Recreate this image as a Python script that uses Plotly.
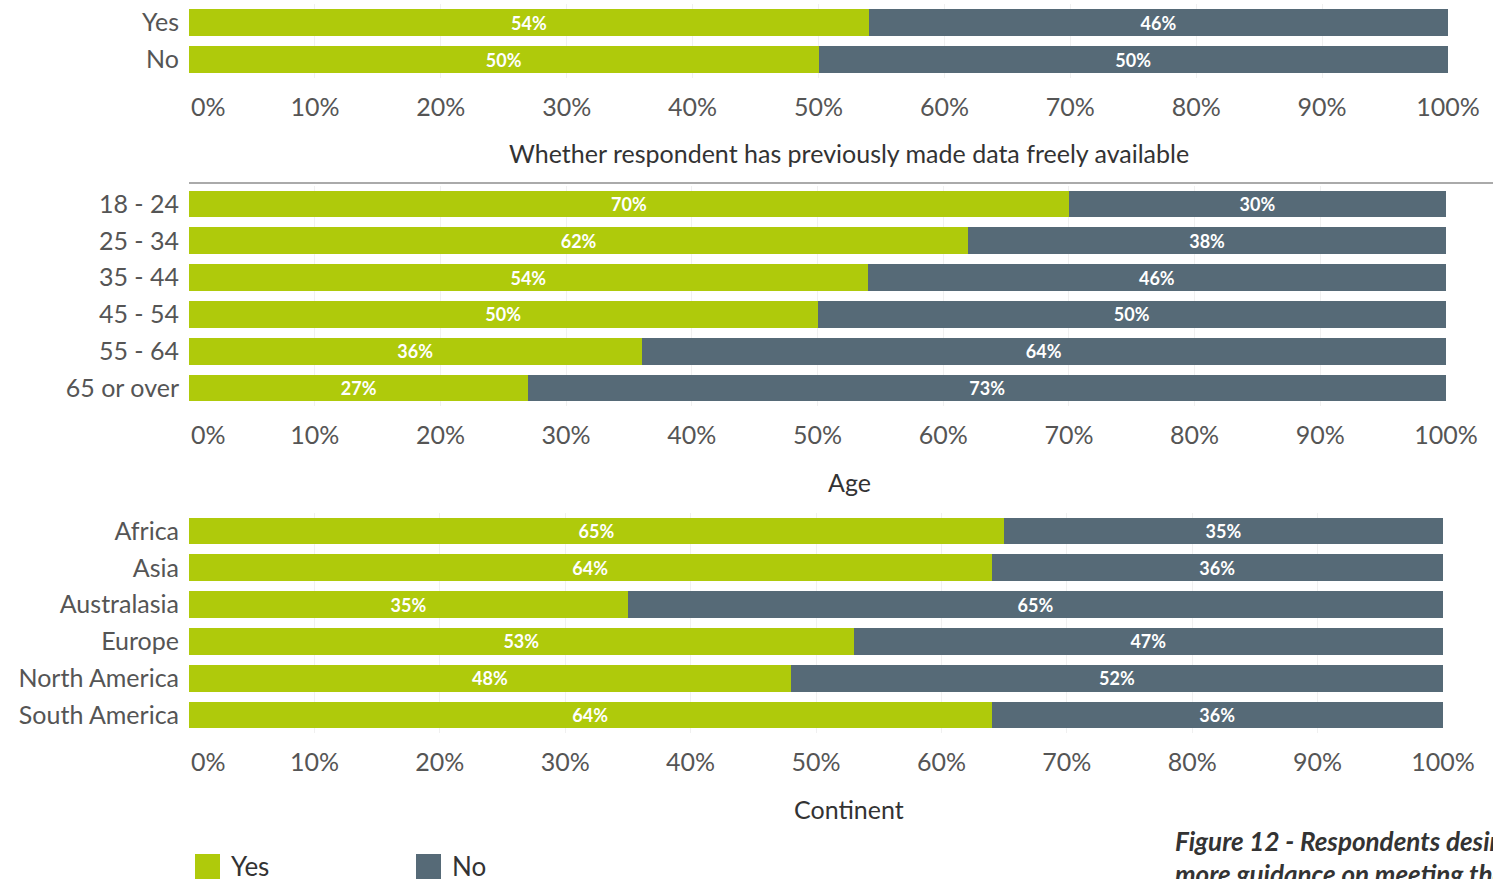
import plotly.graph_objects as go

W, H = 1493, 879

# ---- data ----
prev_cats = ["Yes", "No"]
prev_yes = [54, 50]
prev_no = [46, 50]

age_cats = ["18 - 24", "25 - 34", "35 - 44", "45 - 54", "55 - 64", "65 or over"]
age_yes = [70, 62, 54, 50, 36, 27]
age_no = [30, 38, 46, 50, 64, 73]

cont_cats = ["Africa", "Asia", "Australasia", "Europe", "North America", "South America"]
cont_yes = [65, 64, 35, 53, 48, 64]
cont_no = [35, 36, 65, 47, 52, 36]

tick_vals = list(range(0, 101, 10))
tick_text = ["\u00a0" * 6 + "0%"] + [f"{v}%" for v in tick_vals[1:]]

panel_titles = ["Whether respondent has previously made data freely available", "Age", "Continent"]

GREEN = "#AFCA0B"
SLATE = "#566A77"
FONT = "Lato"
TICKC = "#555555"

# pixel layout: (top, bottom, right) of each plot area
panels = [
    (prev_cats, prev_yes, prev_no, 4, 78, 1448, 153),
    (age_cats, age_yes, age_no, 185.6, 406.4, 1446, 482),
    (cont_cats, cont_yes, cont_no, 512.6, 733.4, 1443, 809),
]

fig = go.Figure()
annotations = []
for i, (cats, yes, no, top, bot, right, title_y) in enumerate(panels):
    n = i + 1
    xa = "x" if n == 1 else f"x{n}"
    ya = "y" if n == 1 else f"y{n}"
    for name, vals, col in (("Yes", yes, GREEN), ("No", no, SLATE)):
        fig.add_trace(go.Bar(
            y=cats, x=vals, name=name, orientation="h",
            marker=dict(color=col, line=dict(width=0)),
            text=[f"{v}%" for v in vals], textposition="inside",
            insidetextanchor="middle", textangle=0, constraintext="none",
            textfont=dict(color="white", size=18, family=FONT, weight="bold"),
            xaxis=xa, yaxis=ya, showlegend=False, hoverinfo="skip",
        ))
    xkey = "xaxis" if n == 1 else f"xaxis{n}"
    ykey = "yaxis" if n == 1 else f"yaxis{n}"
    fig.update_layout(**{
        xkey: dict(domain=[189 / W, right / W], range=[0, 100], anchor=ya,
                   tickvals=tick_vals, ticktext=tick_text, automargin=False,
                   showgrid=True, gridcolor="#F0F0F0", gridwidth=1,
                   zeroline=False, showline=False,
                   ticks="outside", ticklen=7, tickcolor="rgba(0,0,0,0)",
                   tickfont=dict(size=25, color=TICKC, family=FONT), fixedrange=True),
        ykey: dict(domain=[1 - bot / H, 1 - top / H], anchor=xa, automargin=False,
                   categoryorder="array", categoryarray=cats, autorange="reversed",
                   showgrid=False, zeroline=False, showline=False,
                   ticks="outside", ticklen=4, tickcolor="rgba(0,0,0,0)",
                   tickfont=dict(size=25, color=TICKC, family=FONT), fixedrange=True),
    })
    annotations.append(dict(
        text=panel_titles[i], x=849 / W, y=1 - title_y / H, xref="paper", yref="paper",
        xanchor="center", yanchor="middle", showarrow=False,
        font=dict(size=25, color="#333333", family=FONT)))

# legend (drawn manually)
shapes = [
    dict(type="line", xref="paper", yref="paper", x0=189 / W, x1=1, y0=1 - 183 / H, y1=1 - 183 / H,
         line=dict(color="#AAAAAA", width=2)),
    dict(type="rect", xref="paper", yref="paper", x0=195 / W, x1=220 / W, y0=1 - 879 / H, y1=1 - 854 / H,
         fillcolor=GREEN, line=dict(width=0)),
    dict(type="rect", xref="paper", yref="paper", x0=416 / W, x1=441 / W, y0=1 - 879 / H, y1=1 - 854 / H,
         fillcolor=SLATE, line=dict(width=0)),
]
for label, xpx in (("Yes", 229), ("No", 450)):
    annotations.append(dict(text=label, x=xpx / W, y=1 - 866 / H, xref="paper", yref="paper",
                            xanchor="left", yanchor="middle", showarrow=False,
                            font=dict(size=26, color="#333333", family=FONT)))

# caption (cut off by page edge in the reference)
annotations.append(dict(text="<b><i>Figure 12 - Respondents desiring</i></b>", x=1173 / W, y=1 - 841 / H,
                        xref="paper", yref="paper", xanchor="left", yanchor="middle", showarrow=False,
                        font=dict(size=26, color="#333333", family=FONT)))
annotations.append(dict(text="<b><i>more guidance on meeting the</i></b>", x=1173 / W, y=1 - 874 / H,
                        xref="paper", yref="paper", xanchor="left", yanchor="middle", showarrow=False,
                        font=dict(size=26, color="#333333", family=FONT)))

fig.update_layout(
    width=W, height=H, margin=dict(l=0, r=0, t=0, b=0),
    paper_bgcolor="white", plot_bgcolor="white",
    barmode="stack", bargap=0.27,
    font=dict(family=FONT),
    shapes=shapes, annotations=annotations,
)

fig.write_html("out.html", config={"displayModeBar": False},
               post_script="document.body.style.margin='0';document.body.style.overflow='hidden';")
